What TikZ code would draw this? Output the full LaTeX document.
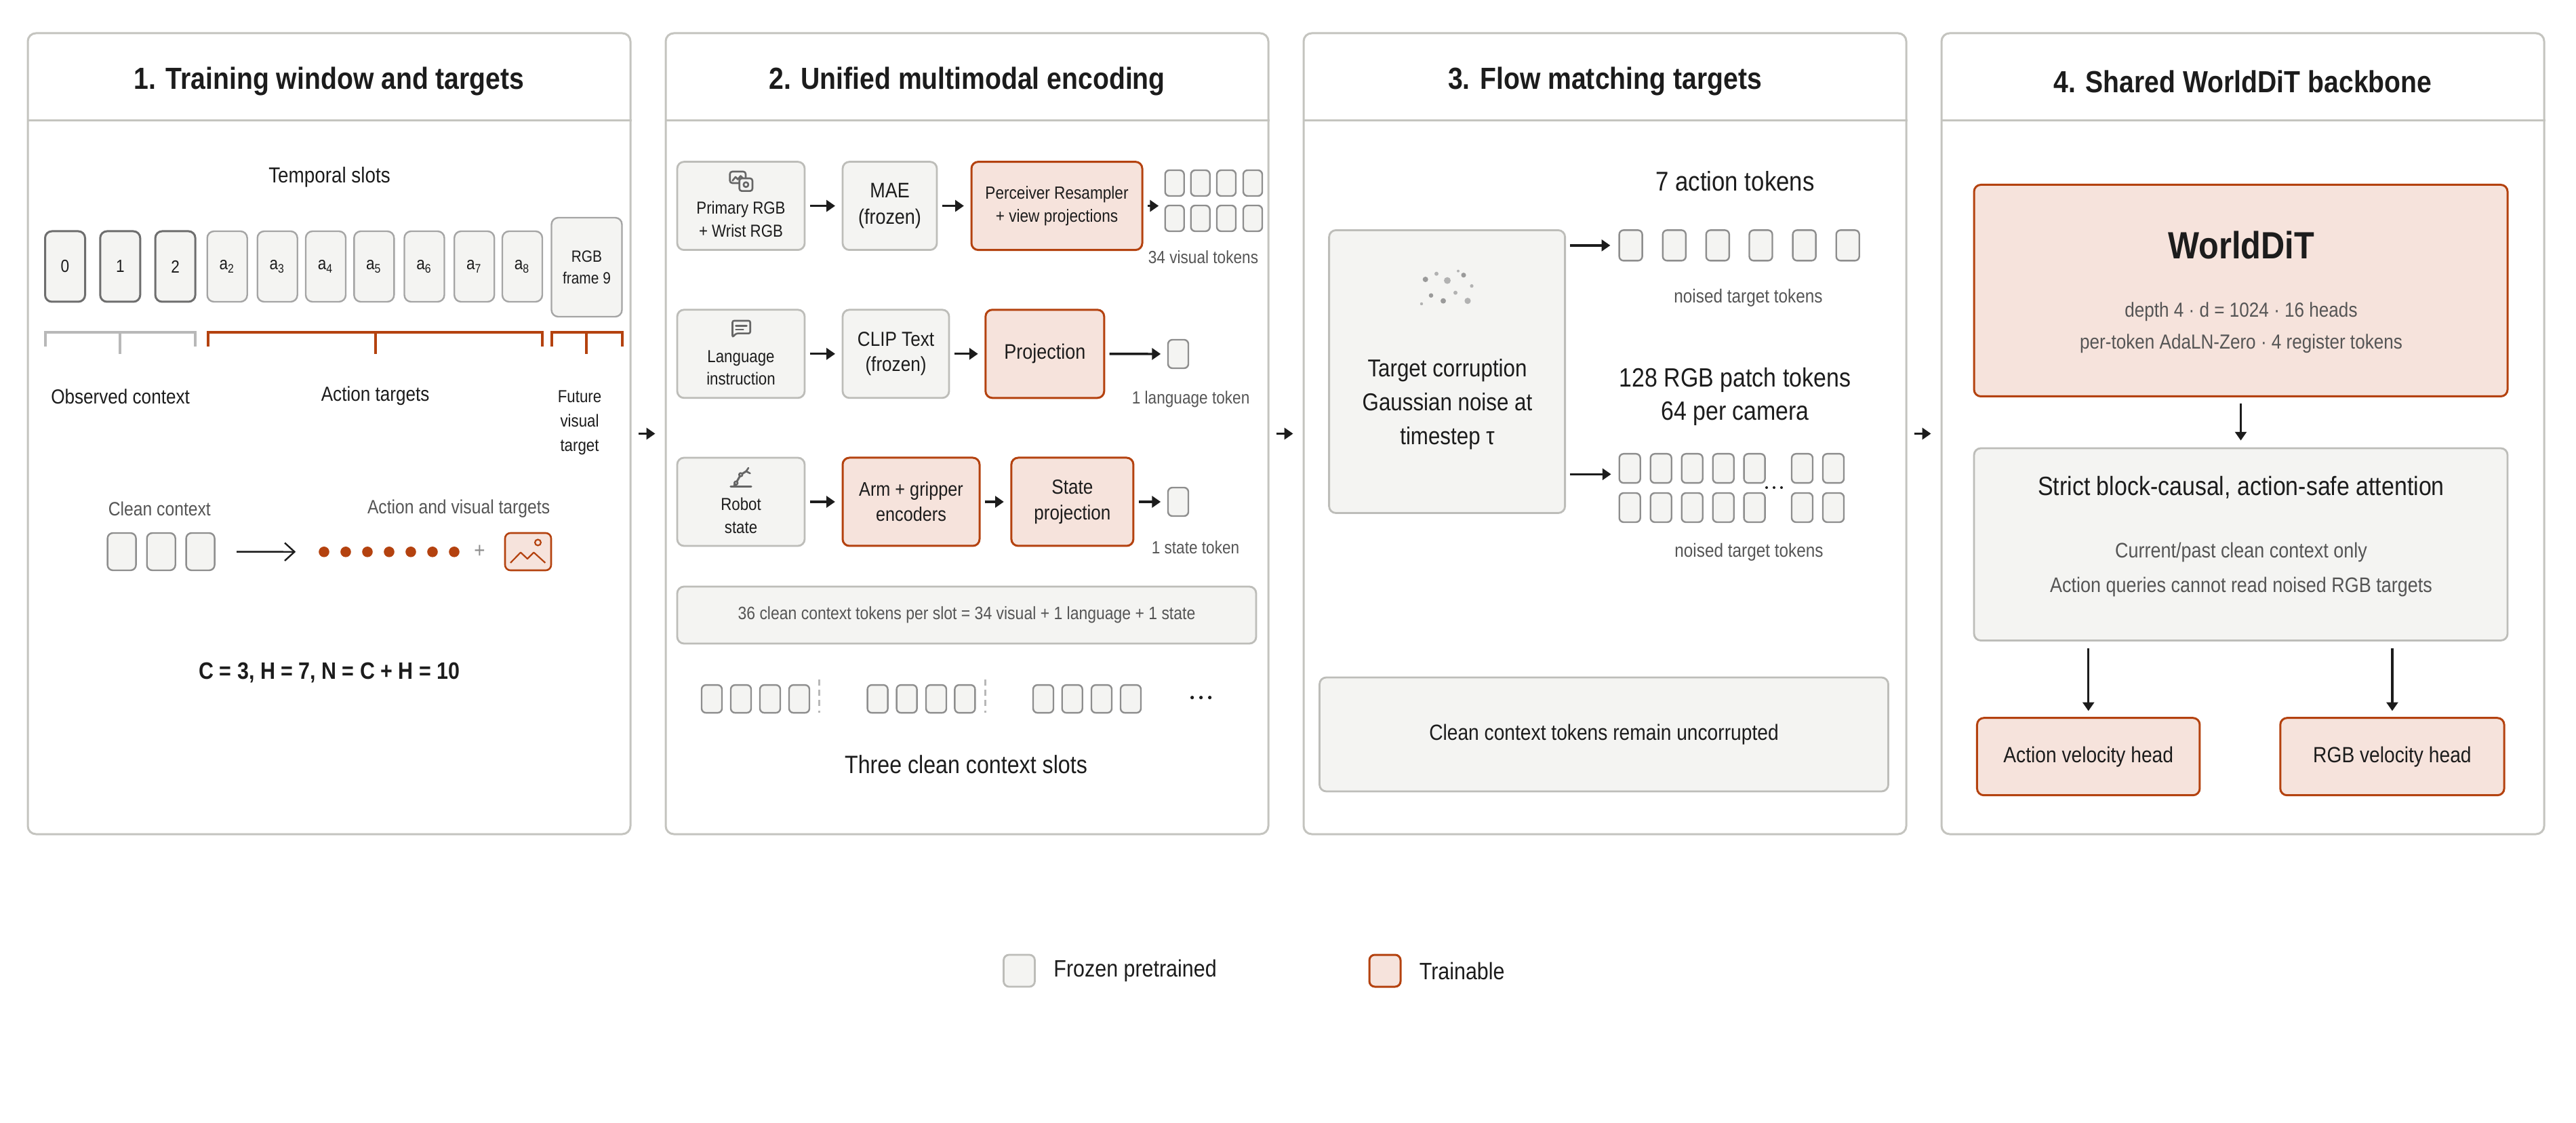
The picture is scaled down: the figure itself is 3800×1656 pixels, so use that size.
\documentclass[tikz,border=0pt]{standalone}
\usepackage{fontspec}
\setmainfont{Liberation Sans}[FakeStretch=0.87]
\usetikzlibrary{arrows.meta}
\definecolor{ink}{HTML}{1C1C1C}
\definecolor{greytext}{HTML}{555555}
\definecolor{panelline}{HTML}{C4C4BF}
\definecolor{frozenfill}{HTML}{F4F4F2}
\definecolor{frozenline}{HTML}{BDBDB9}
\definecolor{trainfill}{HTML}{F6E3DC}
\definecolor{rust}{HTML}{B4420F}
\definecolor{tokline}{HTML}{8E8E8E}
\definecolor{darkslot}{HTML}{6E6E6E}
\definecolor{iconc}{HTML}{666666}
\definecolor{bracketgrey}{HTML}{B8B8B8}
\definecolor{noisea}{HTML}{9A9A9A}
\definecolor{noiseb}{HTML}{B2B2B2}
\newcommand\fz[2]{\fontsize{#1pt}{#2pt}\selectfont}
\tikzset{
  wh/.style 2 args={minimum width=#1*0.25pt, minimum height=#2*0.25pt},
  panel/.style={draw=panelline, line width=0.75pt, rounded corners=3pt, fill=white, wh={889}{1181}},
  sepline/.style={draw=panelline, line width=0.75pt},
  ptitle/.style={font=\bfseries\fz{11.25}{13.5}},
  frozen/.style={draw=frozenline, fill=frozenfill, line width=0.7pt, rounded corners=2.5pt, align=center},
  trainable/.style={draw=rust, fill=trainfill, line width=0.75pt, rounded corners=2.5pt, align=center},
  tok/.style={draw=tokline, fill=frozenfill, line width=0.6pt, rounded corners=1.6pt},
  obsslot/.style={draw=darkslot, fill=frozenfill, line width=0.75pt, rounded corners=2.5pt, wh={59}{104}, font=\fz{6.5}{8}},
  actslot/.style={draw=tokline!80, fill=frozenfill, line width=0.6pt, rounded corners=2.5pt, wh={59}{104}, font=\fz{6.5}{8}},
  arr/.style={draw=ink, line width=0.85pt, -{Triangle[length=3.2pt,width=4.2pt]}, shorten <=1.6pt, shorten >=2.4pt},
  thinarr/.style={draw=ink, line width=0.6pt, -{Straight Barb[length=3.6pt,width=6.6pt]}},
  icon/.style={draw=iconc, line width=0.65pt, line cap=round, line join=round},
  glabel/.style={text=greytext},
}
\begin{document}
\begin{tikzpicture}[x=0.25pt,y=-0.25pt, every node/.style={text=ink, inner sep=0pt}]
\fill[white] (0,0) rectangle (3800,1656);
\useasboundingbox (0,0) rectangle (3800,1656);

% ---------- panels ----------
\node[panel] (p1) at (485.5,639.5) {};
\node[panel] (p2) at (1426.5,639.5) {};
\node[panel] (p3) at (2367.5,639.5) {};
\node[panel] (p4) at (3308.5,639.5) {};
\foreach \p in {p1,p2,p3,p4}{
  \draw[sepline] ([yshift=-32.5pt]\p.north west) -- ([yshift=-32.5pt]\p.north east);
}
\node[ptitle] (t1) at (485.5,120) {1. Training window and targets};
\node[ptitle] (t2) at (1426.5,120) {2. Unified multimodal encoding};
\node[ptitle] (t3) at (2367.5,120) {3. Flow matching targets};
\node[ptitle] (t4) at (3308.5,120) {4. Shared WorldDiT backbone};
\draw[arr, shorten <=2.5pt, shorten >=3.5pt] (p1) -- (p2);
\draw[arr, shorten <=2.5pt, shorten >=3.5pt] (p2) -- (p3);
\draw[arr, shorten <=2.5pt, shorten >=3.5pt] (p3) -- (p4);

% ---------- panel 1 ----------
\node[font=\fz{8}{9.6}] (tslots) at (486,261) {Temporal slots};
\node[obsslot] (s0) at (96,393) {0};
\node[obsslot] (s1) at (177.3,393) {1};
\node[obsslot] (s2) at (258.6,393) {2};
\foreach \i/\x in {2/335.2,3/409.2,4/480.5,5/551.8,6/626,7/699.7,8/770.5}
  \node[actslot] (a\i) at (\x,393) {a\textsubscript{\i}};
\node[actslot, wh={104}{146}, align=center, font=\fz{6}{8}] (rgbf) at (865.5,394) {RGB\\frame 9};

\draw[bracketgrey, line width=1pt] (66.6,511) -- (66.6,490.5) -- (287.7,490.5) -- (287.7,511) (177,490.5) -- (177,521.6);
\draw[rust, line width=1pt] (307,511) -- (307,490.5) -- (800,490.5) -- (800,511) (554,490.5) -- (554,521.6);
\draw[rust, line width=1pt] (813.5,511) -- (813.5,490.5) -- (917.6,490.5) -- (917.6,511) (865,490.5) -- (865,521.6);

\node[font=\fz{7.5}{9}] (lobs) at (177.6,584.6) {Observed context};
\node[font=\fz{7.5}{9}] (lact) at (553.6,584) {Action targets};
\node[font=\fz{6.4}{9}, align=center] (lfut) at (855,623) {Future\\visual\\target};

\node[glabel, font=\fz{7.1}{8.5}, anchor=west] (lclean) at (159,750.6) {Clean context};
\node[glabel, font=\fz{7.1}{8.5}, anchor=east] (lavt) at (812,750.6) {Action and visual targets};
\foreach \i/\x in {1/179.6,2/237.7,3/295.6}
  \node[tok, wh={42}{55}, rounded corners=2pt] (c\i) at (\x,813.5) {};
\foreach \i/\x in {1/478,2/510,3/542,4/574,5/606,6/638,7/670}
  \node[circle, fill=rust, minimum size=3.9pt] (d\i) at (\x,813.8) {};
\draw[thinarr, shorten <=7.8pt, shorten >=8.3pt] (c3) -- (d1);
\node[text=tokline, font=\fz{8}{9}] (plus) at (707.5,813) {+};
\node[trainable, wh={68}{55}, rounded corners=2pt, line width=0.65pt] (img) at (779,813.5) {};
\draw[rust, line width=0.55pt, line join=round] (753,830) -- (768,814.6) -- (778,824) -- (787.4,814.6) -- (804.4,830);
\draw[rust, line width=0.55pt] (793.5,800) circle[radius=1.1pt];

\node[font=\bfseries\fz{8.75}{10.5}] (eqn) at (486,991.7) {C = 3, H = 7, N = C + H = 10};

% ---------- panel 2 ----------
% row 1
\node[frozen, wh={188}{130}] (prim) at (1093,303.6) {};
\node[font=\fz{6.4}{8.5}, align=center] (priml) at (1093,323.7) {Primary RGB\\+ Wrist RGB};
\node[frozen, wh={139}{130}, font=\fz{7.75}{9.7}] (mae) at (1312.5,303.6) {MAE\\(frozen)};
\node[trainable, wh={252}{130}, font=\fz{6.5}{8.6}] (perc) at (1559,303.6) {Perceiver Resampler\\+ view projections};
\foreach \r/\y in {1/270,2/322}
  \foreach \c/\x in {1/1732.7,2/1770.7,3/1809,4/1848}
    \node[tok, wh={28}{38}] (v\r\c) at (\x,\y) {};
\coordinate (visin) at (1718.8,303.6);
\node[glabel, font=\fz{6.5}{8}] (lvis) at (1775,379) {34 visual tokens};
\draw[arr] (prim) -- (mae);
\draw[arr] (mae) -- (perc);
\draw[arr] (perc) -- (visin);
% icon: images
\draw[icon, rounded corners=0.9pt] (1076.7,253) rectangle (1100,270);
\draw[icon] (1080.5,266.5) -- (1085,261) -- (1088.5,264.5) -- (1092.5,259.5) -- (1096,263);
\draw[icon, fill=frozenfill, rounded corners=0.9pt] (1090.7,263) rectangle (1110,281.7);
\draw[icon] (1100.4,272.3) circle[radius=0.9pt];

% row 2
\node[frozen, wh={188}{130}] (lang) at (1093,521.8) {};
\node[font=\fz{6.4}{8.3}, align=center] (langl) at (1093,542.4) {Language\\instruction};
\node[frozen, wh={157}{130}, font=\fz{7.5}{9.3}] (clip) at (1321.5,521.8) {CLIP Text\\(frozen)};
\node[trainable, wh={175}{130}, font=\fz{7.75}{9.3}] (proj) at (1541.3,521.8) {Projection};
\node[tok, wh={30}{42}] (ltok) at (1738,522) {};
\node[glabel, font=\fz{6.5}{8}] (llang) at (1756.6,589) {1 language token};
\draw[arr] (lang) -- (clip);
\draw[arr] (clip) -- (proj);
\draw[arr] (proj) -- (ltok);
% icon: chat
\draw[icon, rounded corners=0.6pt] (1080.5,497.3) -- (1080.5,473) -- (1106.7,473) -- (1106.7,491.7) -- (1086,491.7) -- cycle;
\draw[icon] (1085.5,480.7) -- (1101.5,480.7) (1085.5,486) -- (1096.5,486);

% row 3
\node[frozen, wh={188}{130}] (robot) at (1093,740) {};
\node[font=\fz{6.4}{8.5}, align=center] (robotl) at (1093,760) {Robot\\state};
\node[trainable, wh={202}{130}, font=\fz{7.25}{9.25}] (arm) at (1344,740) {Arm + gripper\\encoders};
\node[trainable, wh={180}{130}, font=\fz{7.5}{9.6}] (sproj) at (1581.9,740) {State\\projection};
\node[tok, wh={30}{42}] (stok) at (1738,740) {};
\node[glabel, font=\fz{6.5}{8}] (lstate) at (1763.5,807) {1 state token};
\draw[arr] (robot) -- (arm);
\draw[arr] (arm) -- (sproj);
\draw[arr] (sproj) -- (stok);
% icon: robot arm
\draw[icon, line width=0.8pt] (1078,717.7) -- (1108,717.7);
\draw[icon, line width=0.75pt] (1083,715.5) -- (1085.7,712.3) -- (1092.7,700) -- (1100.7,695);
\draw[icon, fill=frozenfill] (1085.7,712.3) circle[radius=0.6pt] (1092.7,700) circle[radius=0.6pt];
\draw[icon] (1100.7,695) -- (1104,690) (1100.7,695) -- (1106.5,698);

\node[frozen, wh={854}{84}, glabel, font=\fz{6.6}{8}] (summ) at (1426,907) {36 clean context tokens per slot = 34 visual + 1 language + 1 state};

\foreach \i/\x in {1/1050,2/1093,3/1136,4/1179,5/1294.6,6/1337.6,7/1381,8/1423.4,9/1539,10/1581.7,11/1625,12/1668}
  \node[tok, wh={30}{41}] (b\i) at (\x,1030.6) {};
\draw[bracketgrey, line width=0.75pt, dash pattern=on 2.2pt off 1.6pt] (1208,1002) -- (1208,1051);
\draw[bracketgrey, line width=0.75pt, dash pattern=on 2.2pt off 1.6pt] (1453,1002) -- (1453,1051);
\foreach \x in {1758.6,1771.6,1784.6}
  \fill[ink] (\x,1028.6) circle[radius=0.65pt];
\node[font=\fz{9.25}{11}] (lthree) at (1425,1127) {Three clean context slots};

% ---------- panel 3 ----------
\node[font=\fz{10}{12}] (l7) at (2559.5,266.8) {7 action tokens};
\node[frozen, wh={348}{417}] (corr) at (2134.6,548) {};
\foreach \x/\y/\r/\c in {2102.7/412/4/noisea, 2119/403.7/3/noiseb, 2135/413.7/5/noiseb, 2151/399.7/2/noiseb, 2159/405.7/3.6/noisea, 2171/421.7/2.6/noiseb, 2111/435.7/3.3/noisea, 2147/431.7/3/noiseb, 2129/443.7/4/noisea, 2165/443.7/4.6/noiseb, 2097/448/2.2/noiseb}
  \fill[\c] (\x,\y) circle[radius=\r*0.25pt];
\node[font=\fz{9}{12.5}, align=center] (corrl) at (2135,596) {Target corruption\\Gaussian noise at\\timestep τ};
\foreach \i/\x in {1/2405.6,2/2469.8,3/2533.8,4/2597.5,5/2661.6,6/2725.7}
  \node[tok, wh={34}{45}] (at\i) at (\x,361.9) {};
\draw[arr, shorten >=3pt] (corr.east |- at1) -- (at1);
\node[glabel, font=\fz{7}{8.5}] (ln1) at (2579,438.8) {noised target tokens};
\node[font=\fz{9.75}{12.4}, align=center] (l128) at (2559.5,585) {128 RGB patch tokens\\64 per camera};
\foreach \r/\y in {1/690.7,2/748.5}
  \foreach \c/\x in {1/2404.2,2/2450.2,3/2496.2,4/2542.2,5/2588.1,6/2658.5,7/2704.5}
    \node[tok, wh={31}{43}] (r\r\c) at (\x,\y) {};
\coordinate (rgbin) at (2388.6,699.3);
\draw[arr, shorten >=3pt] (corr.east |- rgbin) -- (rgbin);
\foreach \x in {2606,2617,2628}
  \fill[ink] (\x,719) circle[radius=0.5pt];
\node[glabel, font=\fz{7}{8.5}] (ln2) at (2580,814.5) {noised target tokens};
\node[frozen, wh={839}{168}, font=\fz{8.1}{9.7}] (keep) at (2366,1083) {Clean context tokens remain uncorrupted};

% ---------- panel 4 ----------
\node[trainable, wh={787}{312}] (world) at (3305.5,428.5) {};
\node[font=\bfseries\fz{14}{16}] (worldl) at (3306,361.6) {WorldDiT};
\node[glabel, font=\fz{7.5}{9}] (wd1) at (3306,459.8) {depth 4 · d = 1024 · 16 heads};
\node[glabel, font=\fz{7.5}{9}] (wd2) at (3306,506.3) {per-token AdaLN-Zero · 4 register tokens};
\node[frozen, wh={787}{283.5}] (attn) at (3305.5,802.75) {};
\node[font=\fz{9.75}{11.7}] (attnl) at (3306,719) {Strict block-causal, action-safe attention};
\node[glabel, font=\fz{7.75}{9.3}] (ad1) at (3306,814) {Current/past clean context only};
\node[glabel, font=\fz{7.75}{9.3}] (ad2) at (3306,865.6) {Action queries cannot read noised RGB targets};
\draw[arr, shorten <=2.35pt, shorten >=2.5pt] (world) -- (attn);
\node[trainable, wh={328.5}{114}, font=\fz{8.1}{9.7}] (ahead) at (3080.7,1115.7) {Action velocity head};
\node[trainable, wh={330.3}{114}, font=\fz{8.1}{9.7}] (rhead) at (3528.9,1115.7) {RGB velocity head};
\draw[arr, shorten <=2.5pt, shorten >=2.2pt] (attn.south -| ahead.north) -- (ahead.north);
\draw[arr, shorten <=2.5pt, shorten >=2.2pt] (attn.south -| rhead.north) -- (rhead.north);

% ---------- legend ----------
\node[frozen, wh={46}{47}, rounded corners=2pt] (legf) at (1503.5,1431.5) {};
\node[font=\fz{8.75}{10.5}, anchor=west] (legft) at (1553.6,1431.7) {Frozen pretrained};
\node[trainable, wh={46}{47}, rounded corners=2pt] (legt) at (2043,1431.5) {};
\node[font=\fz{8.75}{10.5}, anchor=west] (legtt) at (2093,1431.7) {Trainable};
\end{tikzpicture}
\end{document}
